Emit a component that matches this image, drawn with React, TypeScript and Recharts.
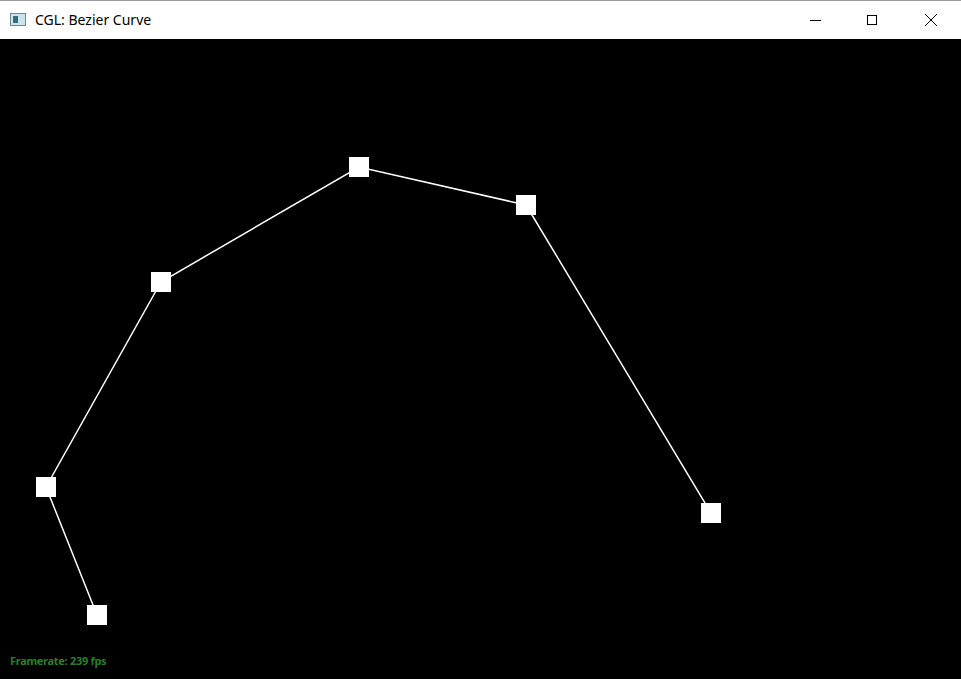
import { ScatterChart, Scatter, XAxis, YAxis } from 'recharts'

// control points, in canvas pixels (origin top-left of the black area)
const pointX = [97, 46, 161, 359, 526, 711]
const pointY = [576, 448, 243, 128, 166, 474]
const points = pointX.map((x, i) => ({ x, y: pointY[i] }))

const W = 961
const H = 679
const BAR = 39

const Square = (props: any) => {
  const { cx, cy } = props
  return <rect x={cx - 10} y={cy - 10} width={20} height={20} fill="#FFFFFF" />
}

export default function App() {
  return (
    <div style={{ position: 'absolute', left: 0, top: 0, width: W, height: H, background: '#000', overflow: 'hidden', fontFamily: '"Noto Sans", sans-serif' }}>
      {/* title bar */}
      <div style={{ height: BAR, background: '#FFFFFF', position: 'relative', borderTop: '1px solid #9a9a9a', boxSizing: 'border-box' }}>
        <div style={{ position: 'absolute', left: 10, top: 12, width: 16, height: 13, border: '1px solid #6a8a9a', background: '#cfe3ea', boxSizing: 'border-box' }}>
          <div style={{ position: 'absolute', left: 2, top: 2, width: 5, height: 7, background: '#2f6f7f' }} />
        </div>
        <span style={{ position: 'absolute', left: 35, top: 9, fontSize: 14, color: '#000' }}>CGL: Bezier Curve</span>
        <div style={{ position: 'absolute', left: 810, top: 19, width: 11, height: 1, background: '#000' }} />
        <div style={{ position: 'absolute', left: 867, top: 14, width: 10, height: 10, border: '1px solid #000', boxSizing: 'border-box' }} />
        <svg style={{ position: 'absolute', left: 925, top: 13 }} width={12} height={12}>
          <line x1={0} y1={0} x2={12} y2={12} stroke="#000" strokeWidth={1} />
          <line x1={12} y1={0} x2={0} y2={12} stroke="#000" strokeWidth={1} />
        </svg>
      </div>
      <div style={{ position: 'relative', width: W, height: H - BAR }}>
        <ScatterChart width={W} height={H - BAR} margin={{ top: 0, right: 0, bottom: 0, left: 0 }}>
          <XAxis type="number" dataKey="x" domain={[0, W]} hide />
          <YAxis type="number" dataKey="y" domain={[0, H - BAR]} reversed hide />
          <Scatter data={points} line={{ stroke: '#FFFFFF', strokeWidth: 1.5 }} lineType="joint"
            shape={<Square />} isAnimationActive={false} />
        </ScatterChart>
        <span style={{ position: 'absolute', left: 10, top: 614, fontSize: 11, fontWeight: 'bold', color: '#2a7f2a', letterSpacing: -0.3 }}>Framerate: 239 fps</span>
      </div>
    </div>
  )
}
